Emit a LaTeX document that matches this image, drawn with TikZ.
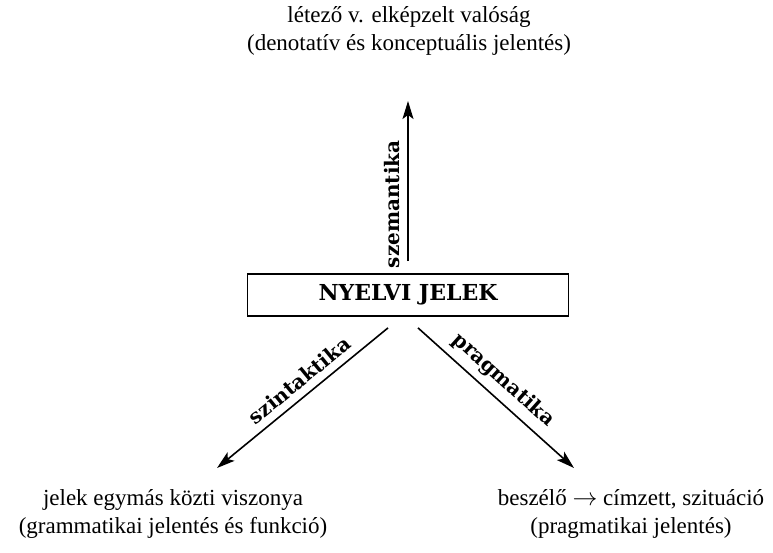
\documentclass[tikz,border=0pt]{standalone}
\usepackage{fontspec}
\setmainfont{Liberation Serif}
\newfontfamily\labfont{DejaVu Serif}
\usetikzlibrary{arrows.meta}

\begin{document}
\begin{tikzpicture}[x=1pt, y=-1pt, >={Stealth[length=18pt, width=11pt, inset=4pt]},
    font=\fontsize{23}{28}\selectfont,
    every node/.style={align=center},
    lab/.style={font=\labfont\bfseries\fontsize{20}{23}\selectfont}]

    \useasboundingbox (0, 0) rectangle (773, 553);

    \node (a) at (409, 31) {létező v. elképzelt valóság\\(denotatív és konceptuális jelentés)};
    \node[draw, line width=1.8pt, minimum width=321pt, minimum height=42pt, inner sep=0pt, font=\labfont\bfseries\fontsize{22}{24}\selectfont] (b) at (408, 295) {NYELVI JELEK};
    \node (c) at (173, 514) {jelek egymás közti viszonya\\(grammatikai jelentés és funkció)};
    \node (d) at (631, 514) {beszélő $\rightarrow$ címzett, szituáció\\(pragmatikai jelentés)};

    \coordinate (s) at (408, 101);
    \coordinate (l) at (217, 468);
    \coordinate (r) at (574, 468);

    \draw [->, line width=1.6pt, shorten <=12pt] (b.north) to node[sloped, above=4pt, pos=0.4, lab] {szemantika} (s);
    \draw [->, line width=1.6pt] ([xshift=-20pt, yshift=-11pt]b.south) to node[sloped, above=4pt, pos=0.46, lab] {szintaktika} (l);
    \draw [->, line width=1.6pt] ([xshift=10pt, yshift=-11pt]b.south) to node[sloped, above=4pt, pos=0.47, lab] {pragmatika} (r);

\end{tikzpicture}
\end{document}
